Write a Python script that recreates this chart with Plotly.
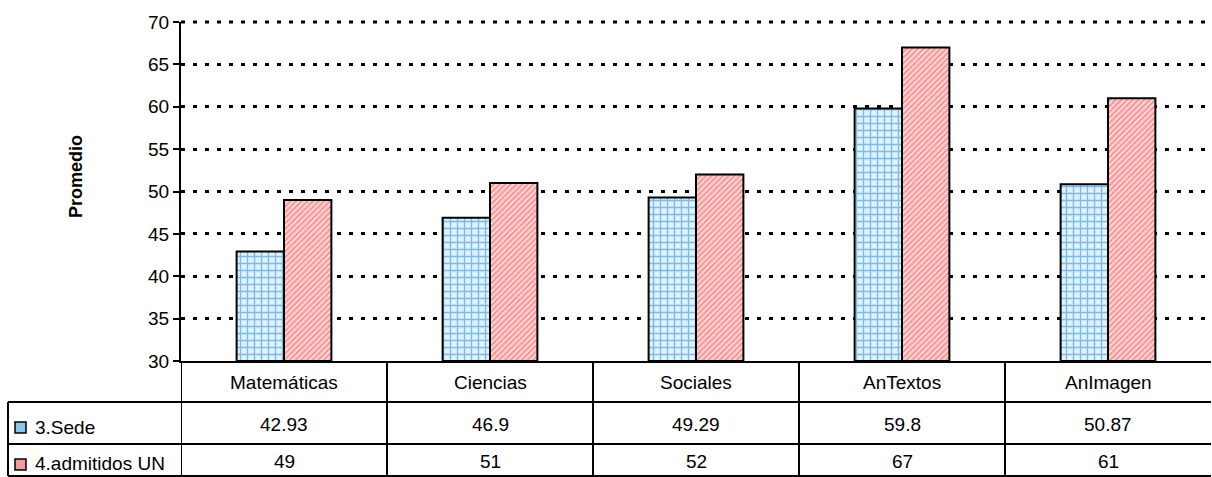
import plotly.graph_objects as go

categories = ["Matemáticas", "Ciencias", "Sociales", "AnTextos", "AnImagen"]
sede = [42.93, 46.9, 49.29, 59.8, 50.87]
admitidos = [49, 51, 52, 67, 61]
sede_labels = ["42.93", "46.9", "49.29", "59.8", "50.87"]
admitidos_labels = ["49", "51", "52", "67", "61"]
series_names = ["3.Sede", "4.admitidos UN"]
y_ticks = [30, 35, 40, 45, 50, 55, 60, 65, 70]

W, H = 1212, 477
L, R, T, B = 181, 1, 22, 116
FONT = "Liberation Sans, Arial, sans-serif"
FS = 19

def px(x):
    return (x - L) / (W - L - R)

def py(y):
    return (H - B - y) / (H - B - T)

fig = go.Figure()
fig.add_trace(go.Bar(
    x=categories, y=[v - 30 for v in sede], base=30, name=series_names[0],
    marker=dict(color="#d0eafa", line=dict(color="black", width=2),
                pattern=dict(shape="+", fgcolor="#1a85cc", bgcolor="#dff1fc", size=7, solidity=0.35)),
))
fig.add_trace(go.Bar(
    x=categories, y=[v - 30 for v in admitidos], base=30, name=series_names[1],
    marker=dict(color="#ffd0d0", line=dict(color="black", width=2),
                pattern=dict(shape="/", fgcolor="#f04444", bgcolor="#ffd6d6", size=4, solidity=0.45)),
))

shapes = []
line = dict(color="black", width=2)
# top gridline (at plot top)
shapes.append(dict(type="line", xref="paper", yref="paper", x0=0, x1=1, y0=1, y1=1,
                   line=dict(color="black", width=3, dash="4px,8px"), layer="below"))
# horizontal table lines
for yy in [402, 444, 476]:
    shapes.append(dict(type="line", xref="paper", yref="paper", x0=px(8), x1=1, y0=py(yy), y1=py(yy), line=line))
# left border of label column
shapes.append(dict(type="line", xref="paper", yref="paper", x0=px(8), x1=px(8), y0=py(402), y1=py(476), line=line))
# vertical category boundaries
for k in range(len(categories)):
    xb = k - 0.5
    shapes.append(dict(type="line", xref="x", yref="paper", x0=xb, x1=xb, y0=py(361), y1=py(476), line=line))
# legend keys
shapes.append(dict(type="rect", xref="paper", yref="paper", x0=px(15), x1=px(26), y0=py(433), y1=py(422),
                   fillcolor="#8cc8ee", line=dict(color="black", width=1.5)))
shapes.append(dict(type="rect", xref="paper", yref="paper", x0=px(15), x1=px(26), y0=py(470), y1=py(459),
                   fillcolor="#f59a9a", line=dict(color="black", width=1.5)))

def ann(x, y, text, xref="x", xanchor="center", angle=0, size=FS):
    return dict(x=x, y=y, xref=xref, yref="paper", text=text, showarrow=False,
                xanchor=xanchor, yanchor="middle", textangle=angle,
                font=dict(size=size, family=FONT, color="black"))

annotations = []
for i, c in enumerate(categories):
    annotations.append(ann(i, py(382), c))
    annotations.append(ann(i, py(424), sede_labels[i]))
    annotations.append(ann(i, py(461), admitidos_labels[i]))
annotations.append(ann(px(33), py(427), series_names[0], xref="paper", xanchor="left"))
annotations.append(ann(px(33), py(463), series_names[1], xref="paper", xanchor="left"))
annotations.append(ann(px(76), py(177), "<b>Promedio</b>", xref="paper", angle=-90, size=18))

fig.update_layout(
    width=W, height=H,
    margin=dict(l=L, r=R, t=T, b=B),
    paper_bgcolor="white", plot_bgcolor="white",
    barmode="group", bargap=0.54, bargroupgap=0,
    showlegend=False,
    shapes=shapes, annotations=annotations,
    font=dict(family=FONT, color="black"),
)
fig.update_xaxes(showticklabels=False, showgrid=False, showline=True, linecolor="black", linewidth=2,
                 ticks="", range=[-0.5, 4.5])
fig.update_yaxes(range=[30, 70], tickvals=y_ticks, showgrid=True, gridcolor="black", gridwidth=3,
                 griddash="4px,8px", showline=True, linecolor="black", linewidth=2,
                 ticks="outside", ticklen=6, tickwidth=1.5, tickcolor="black",
                 tickfont=dict(size=FS, family=FONT, color="black"), zeroline=False)

fig.write_html("out.html", config={"displayModeBar": False},
               post_script="document.body.style.margin='0';document.body.style.overflow='hidden';")
